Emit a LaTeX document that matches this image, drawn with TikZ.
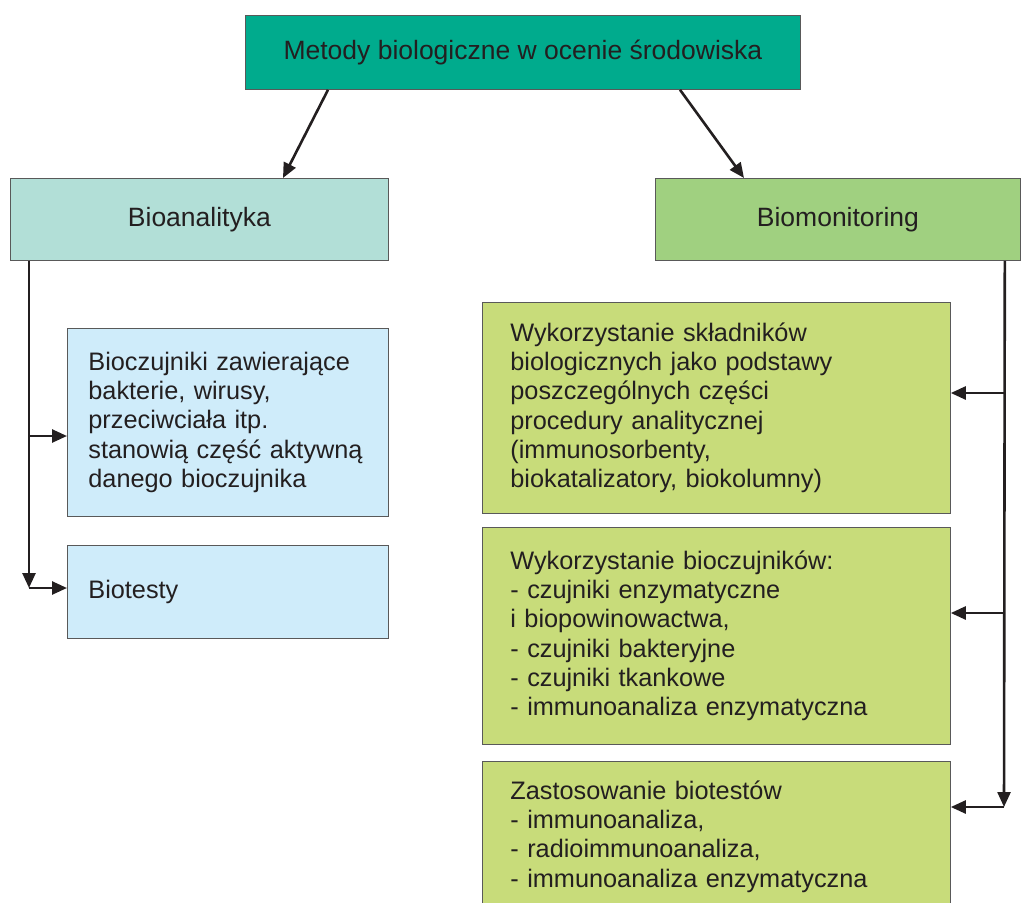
\documentclass[tikz,border=0pt]{standalone}
\usepackage{fontspec}
\setmainfont{Liberation Sans}
\usetikzlibrary{arrows.meta,calc}

\definecolor{topfill}{RGB}{0,171,141}
\definecolor{anafill}{RGB}{178,223,215}
\definecolor{monfill}{RGB}{160,208,128}
\definecolor{leaffill}{RGB}{207,236,250}
\definecolor{greenfill}{RGB}{200,220,122}
\definecolor{inkcol}{RGB}{35,31,32}

\begin{document}
\begin{tikzpicture}[
	x=1pt, y=-1pt,
	base/.style={draw=black!65, line width=0.8pt, text=inkcol, inner sep=0pt},
	head/.style={base, anchor=north west, font=\fontsize{26.5pt}{30pt}\selectfont, align=center},
	leaf/.style={base, anchor=north west, font=\fontsize{25.3pt}{29.3pt}\selectfont, align=left},
	leftbox/.style={leaf, fill=leaffill, minimum width=321pt, text width=279pt, inner xsep=21pt},
	rightbox/.style={leaf, fill=greenfill, minimum width=468pt, text width=412pt, inner xsep=28pt},
	connect/.style={-{Triangle[length=15pt,width=13pt]}, line width=2.6pt, draw=inkcol},
	]
	
	\useasboundingbox (0,0) rectangle (1024,902);
	
	%-----------------------
	% Row 1: main title
	%-----------------------
	\node[head, fill=topfill, minimum width=555pt, minimum height=74pt] (top) at (245,15) {Metody biologiczne w ocenie środowiska};
	
	%-----------------------
	% Row 2: two branches
	%-----------------------
	\node[head, fill=anafill, minimum width=378pt, minimum height=82pt] (bioan) at (10,178) {Bioanalityka};
	\node[head, fill=monfill, minimum width=365pt, minimum height=82pt] (biomon) at (655,178) {Biomonitoring};
	
	%-----------------------
	% Left column: bioanalityka
	%-----------------------
	\node[leftbox, minimum height=188pt] (ana1) at (67,328) {Bioczujniki zawierające\\bakterie, wirusy,\\przeciwciała itp.\\stanowią część aktywną\\danego bioczujnika};
	\node[leftbox, minimum height=93pt] (ana2) at (67,545) {Biotesty};
	
	%-----------------------
	% Right column: biomonitoring
	%-----------------------
	\node[rightbox, minimum height=211pt] (mon1) at (482,302) {Wykorzystanie składników\\biologicznych jako podstawy\\poszczególnych części\\procedury analitycznej\\(immunosorbenty,\\biokatalizatory, biokolumny)};
	\node[rightbox, minimum height=217pt] (mon2) at (482,527) {Wykorzystanie bioczujników:\\- czujniki enzymatyczne\\i biopowinowactwa,\\- czujniki bakteryjne\\- czujniki tkankowe\\- immunoanaliza enzymatyczna};
	\node[rightbox, minimum height=150pt] (mon3) at (482,761) {Zastosowanie biotestów\\- immunoanaliza,\\- radioimmunoanaliza,\\- immunoanaliza enzymatyczna};
	
	%-----------------------
	% Connections
	%-----------------------
	% title -> branches
	\draw[connect] ([xshift=83pt]top.south west) -- ([xshift=273pt]bioan.north west);
	\draw[connect] ([xshift=435pt]top.south west) -- ([xshift=89pt]biomon.north west);
	
	% bioanalityka -> leaves
	\coordinate (L1) at (29,436);
	\coordinate (L2) at (29,588);
	\draw[connect] ([xshift=19pt]bioan.south west) -- (L2);
	\draw[connect] (L1) -- (L1 -| ana1.west);
	\draw[connect] (L2) -- (L2 -| ana2.west);
	
	% biomonitoring -> leaves
	\coordinate (R1) at (1004,393);
	\coordinate (R2) at (1004,613);
	\coordinate (R3) at (1004,807);
	\draw[connect] ([xshift=-16pt]biomon.south east) -- (R3);
	\draw[connect] (R1) -- (R1 -| mon1.east);
	\draw[connect] (R2) -- (R2 -| mon2.east);
	\draw[connect] (R3) -- (R3 -| mon3.east);
	
\end{tikzpicture}
\end{document}
